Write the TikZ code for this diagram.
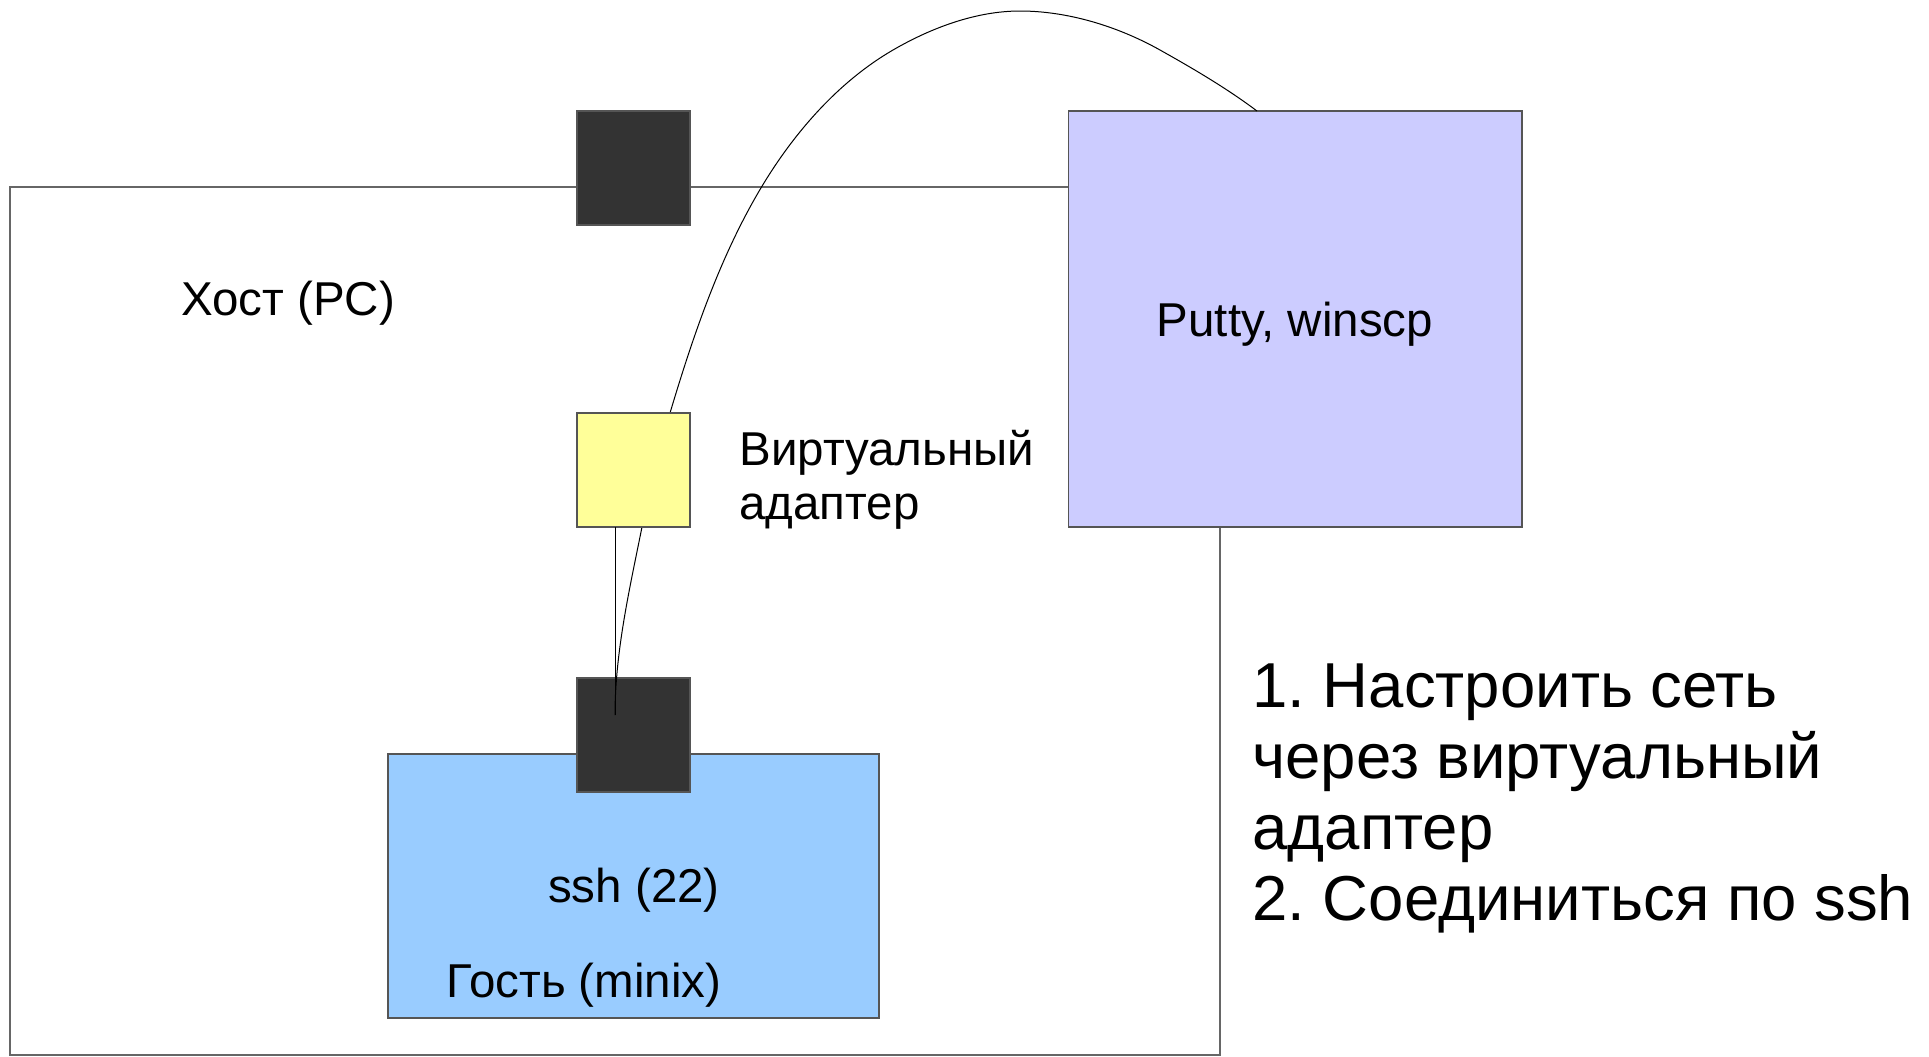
\documentclass[tikz,border=0pt]{standalone}
\usepackage{fontspec}
\setmainfont{Liberation Sans}
\frenchspacing
\definecolor{portc}{HTML}{333333}
\definecolor{adapc}{HTML}{FFFF99}
\definecolor{puttyc}{HTML}{CCCCFF}
\definecolor{guestc}{HTML}{99CCFF}
\definecolor{edgec}{HTML}{555555}
\begin{document}
\begin{tikzpicture}[x=0.5pt,y=-0.5pt,
  box/.style={draw=edgec, line width=0.6pt, inner sep=0pt, outer sep=0pt},
  port/.style={box, fill=portc, minimum width=56.5pt, minimum height=57pt},
  lbl/.style={inner sep=0pt, anchor=base, font=\fontsize{23.75pt}{27pt}\selectfont},
  steps/.style={inner sep=0pt, anchor=base west, align=left, font=\fontsize{31.75pt}{35.5pt}\selectfont},
  wire/.style={draw=black, line width=0.5pt}]
\useasboundingbox (0,0) rectangle (1929,1056);
% host
\node[box, draw=black!60, line width=0.7pt, minimum width=605pt, minimum height=434pt] (host) at (615,621) {};
% guest
\node[box, fill=guestc, minimum width=245.5pt, minimum height=132pt] (guest) at (633.5,886) {};
\node[port] (gport) at (633.5,735) {};
\node[port] (hport) at (633.5,168) {};
\node[box, fill=puttyc, minimum width=226.75pt, minimum height=208pt] (putty) at (1295.25,319) {};
% connectors
\coordinate (vend) at (615,715);
\coordinate (cend) at (1257,111);
\draw[wire] (vend)
  .. controls (615,652) and (629.6,588.8) .. (642,527)
  .. controls (649.6,488.8) and (658.8,450.4) .. (670,413)
  .. controls (693.2,335.4) and (720.1,256.1) .. (761.7,186.7)
  .. controls (794.1,132.7) and (838.5,81.6) .. (893,50)
  .. controls (931.1,27.9) and (976,11) .. (1020,11)
  .. controls (1068,11) and (1118.1,26.5) .. (1160,50)
  .. controls (1193.2,68.6) and (1226.6,88.2) .. (cend);
\node[box, fill=adapc, minimum width=56.5pt, minimum height=57pt] (adapter) at (633.5,470) {};
\draw[wire] (vend |- adapter.south) -- (vend);
% labels
\node[lbl] (hostlbl) at (288,315) {Хост (PC)};
\node[lbl] (puttylbl) at (1295,336) {Putty, winscp};
\node[lbl] (sshlbl) at (634,902) {ssh (22)};
\node[lbl] (guestlbl) at (584,997) {Гость (minix)};
\node[lbl, anchor=base west, align=left] (adlbl) at (739,519) {Виртуальный\\адаптер};
\node[steps] (stepslbl) at (1252,920) {1. Настроить сеть\\через виртуальный\\адаптер\\2. Соединиться по ssh};
\end{tikzpicture}
\end{document}
